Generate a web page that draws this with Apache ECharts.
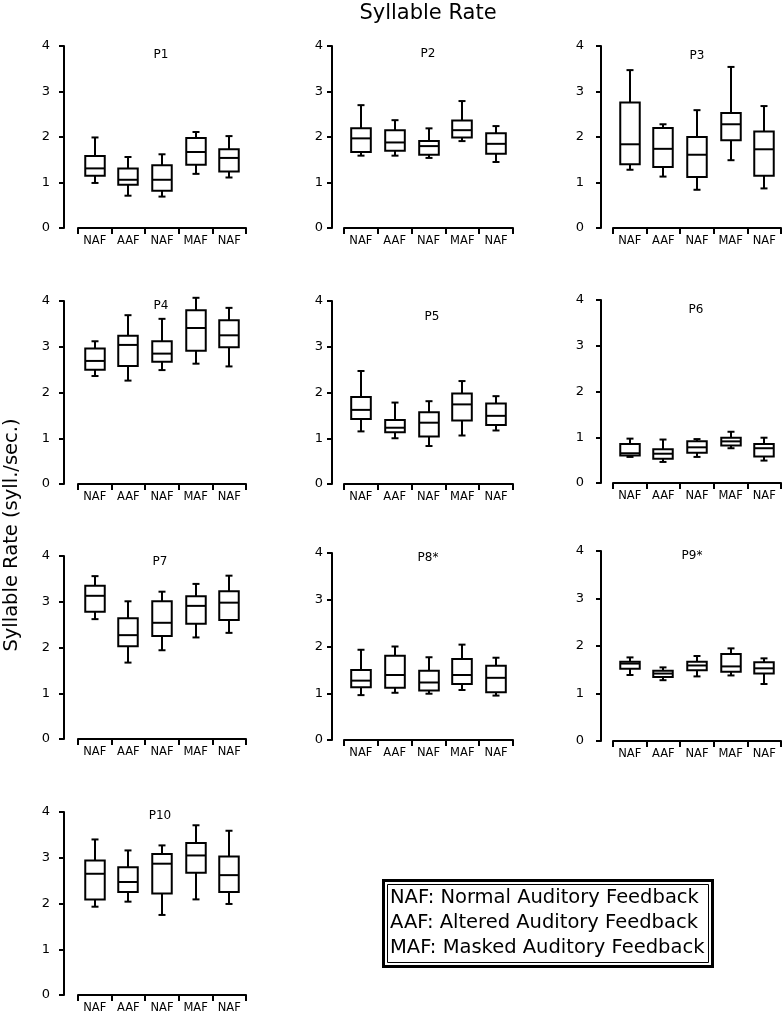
<!DOCTYPE html>
<html><head><meta charset="utf-8">
<script src="https://cdn.jsdelivr.net/npm/echarts@6/dist/echarts.min.js"></script>
<style>html,body{margin:0;padding:0;background:#fff}#c{width:784px;height:1017px}</style>
</head><body><div id="c"></div>
<script>
const categories = ['NAF', 'AAF', 'NAF', 'MAF', 'NAF'];
const yTickMin = 0, yTickMax = 4, yTickStep = 1;
const panelNames = ['P1', 'P2', 'P3', 'P4', 'P5', 'P6', 'P7', 'P8*', 'P9*', 'P10'];
const mainTitle = 'Syllable Rate';
const yAxisTitle = 'Syllable Rate (syll./sec.)';
const legendLines = ['NAF: Normal Auditory Feedback', 'AAF: Altered Auditory Feedback', 'MAF: Masked Auditory Feedback'];

// each entry: [low whisker, Q1, median, Q3, high whisker]
const p1 = [[0.99, 1.15, 1.31, 1.58, 1.99], [0.71, 0.95, 1.06, 1.31, 1.56], [0.69, 0.82, 1.06, 1.38, 1.62], [1.19, 1.39, 1.67, 1.98, 2.11], [1.11, 1.24, 1.54, 1.73, 2.02]];
const p2 = [[1.59, 1.67, 1.97, 2.19, 2.70], [1.59, 1.70, 1.88, 2.15, 2.37], [1.54, 1.61, 1.80, 1.91, 2.19], [1.91, 1.99, 2.15, 2.36, 2.79], [1.45, 1.63, 1.85, 2.08, 2.24]];
const p3 = [[1.28, 1.40, 1.84, 2.76, 3.47], [1.13, 1.34, 1.74, 2.20, 2.28], [0.84, 1.12, 1.61, 2.00, 2.59], [1.49, 1.93, 2.28, 2.53, 3.54], [0.87, 1.15, 1.73, 2.12, 2.68]];
const p4 = [[2.36, 2.50, 2.69, 2.96, 3.12], [2.26, 2.58, 3.04, 3.24, 3.69], [2.49, 2.67, 2.85, 3.12, 3.61], [2.63, 2.91, 3.41, 3.80, 4.07], [2.57, 2.99, 3.25, 3.58, 3.85]];
const p5 = [[1.15, 1.42, 1.62, 1.90, 2.47], [1.00, 1.13, 1.23, 1.40, 1.78], [0.83, 1.04, 1.34, 1.57, 1.81], [1.06, 1.39, 1.74, 1.98, 2.25], [1.17, 1.29, 1.49, 1.76, 1.92]];
const p6 = [[0.57, 0.60, 0.65, 0.85, 0.97], [0.46, 0.53, 0.64, 0.74, 0.95], [0.57, 0.66, 0.78, 0.91, 0.96], [0.76, 0.82, 0.91, 0.99, 1.12], [0.49, 0.58, 0.76, 0.85, 0.99]];
const p7 = [[2.62, 2.78, 3.13, 3.35, 3.56], [1.67, 2.03, 2.27, 2.64, 3.01], [1.94, 2.25, 2.54, 3.01, 3.22], [2.22, 2.52, 2.91, 3.12, 3.39], [2.32, 2.60, 2.98, 3.23, 3.57]];
const p8 = [[0.96, 1.13, 1.27, 1.50, 1.93], [1.01, 1.12, 1.39, 1.80, 2.00], [0.99, 1.06, 1.23, 1.48, 1.77], [1.07, 1.20, 1.39, 1.73, 2.04], [0.95, 1.02, 1.33, 1.59, 1.76]];
const p9 = [[1.39, 1.52, 1.63, 1.67, 1.76], [1.28, 1.35, 1.42, 1.48, 1.55], [1.36, 1.49, 1.59, 1.67, 1.79], [1.38, 1.46, 1.57, 1.83, 1.95], [1.20, 1.42, 1.53, 1.66, 1.74]];
const p10 = [[1.93, 2.09, 2.65, 2.94, 3.40], [2.04, 2.25, 2.47, 2.79, 3.16], [1.75, 2.22, 2.87, 3.08, 3.27], [2.09, 2.67, 3.05, 3.32, 3.71], [1.99, 2.25, 2.62, 3.03, 3.59]];
const panels = [p1, p2, p3, p4, p5, p6, p7, p8, p9, p10];

// layout (pixels): grid left/width, value-4 top and value-0 bottom, y-axis offset, title position
const colX = [{left: 78, width: 168, off: 14, lm: 14}, {left: 344, width: 169, off: 12, lm: 9}, {left: 613, width: 168, off: 12, lm: 17}];
const panelBox = [
  {col: 0, top: 46, bot: 228, tx: 161, ty: 55},
  {col: 1, top: 46, bot: 228, tx: 428, ty: 54},
  {col: 2, top: 46, bot: 228, tx: 697, ty: 56},
  {col: 0, top: 301, bot: 484, tx: 161, ty: 306},
  {col: 1, top: 301, bot: 484, tx: 432, ty: 317},
  {col: 2, top: 300, bot: 483, tx: 696, ty: 310},
  {col: 0, top: 556, bot: 739, tx: 160, ty: 562},
  {col: 1, top: 553, bot: 740, tx: 428, ty: 558},
  {col: 2, top: 551, bot: 741, tx: 692, ty: 556},
  {col: 0, top: 812, bot: 995, tx: 160, ty: 816}
];

const FONT = '"DejaVu Sans", "Liberation Sans", sans-serif';
const LW = 2;
const grids = [], xAxes = [], yAxes = [], series = [], graphics = [];

function renderBox(params, api) {
  const i = api.value(0);
  const lo = api.coord([i, api.value(1)]);
  const q1 = api.coord([i, api.value(2)]);
  const md = api.coord([i, api.value(3)]);
  const q3 = api.coord([i, api.value(4)]);
  const hi = api.coord([i, api.value(5)]);
  const band = api.size([1, 0])[0];
  const bw = band * 0.58, cw = 7;
  const x = Math.round(lo[0]);
  const st = {stroke: '#000', lineWidth: LW};
  return {type: 'group', children: [
    {type: 'line', shape: {x1: x, y1: hi[1], x2: x, y2: q3[1]}, style: st},
    {type: 'line', shape: {x1: x, y1: q1[1], x2: x, y2: lo[1]}, style: st},
    {type: 'line', shape: {x1: x - cw / 2, y1: hi[1], x2: x + cw / 2, y2: hi[1]}, style: st},
    {type: 'line', shape: {x1: x - cw / 2, y1: lo[1], x2: x + cw / 2, y2: lo[1]}, style: st},
    {type: 'rect', shape: {x: x - bw / 2, y: q3[1], width: bw, height: q1[1] - q3[1]}, style: {stroke: '#000', lineWidth: LW, fill: '#fff'}},
    {type: 'line', shape: {x1: x - bw / 2, y1: md[1], x2: x + bw / 2, y2: md[1]}, style: st}
  ]};
}

panels.forEach((d, k) => {
  const b = panelBox[k], c = colX[b.col];
  grids.push({left: c.left, width: c.width, top: b.top, height: b.bot - b.top, outerBoundsMode: 'none', containLabel: false});
  xAxes.push({
    type: 'category', gridIndex: k, data: categories, boundaryGap: true, offset: 2,
    axisLine: {show: true, lineStyle: {color: '#000', width: LW}},
    axisTick: {show: true, length: 6, lineStyle: {color: '#000', width: LW}},
    axisLabel: {color: '#000', fontFamily: FONT, fontSize: 11.5, margin: 5, interval: 0},
    splitLine: {show: false}
  });
  yAxes.push({
    type: 'value', gridIndex: k, min: yTickMin, max: yTickMax, interval: yTickStep, offset: c.off,
    axisLine: {show: true, lineStyle: {color: '#000', width: LW}},
    axisTick: {show: true, length: 5, lineStyle: {color: '#000', width: LW}},
    axisLabel: {color: '#000', fontFamily: FONT, fontSize: 13, margin: c.lm},
    splitLine: {show: false}
  });
  series.push({
    type: 'custom', xAxisIndex: k, yAxisIndex: k, renderItem: renderBox,
    encode: {x: 0, y: [1, 2, 3, 4, 5]},
    data: d.map((v, i) => [i].concat(v)), silent: true, clip: false
  });
  graphics.push({type: 'text', x: b.tx, y: b.ty, style: {text: panelNames[k], fill: '#000', font: '12px ' + FONT, textAlign: 'center', textVerticalAlign: 'middle'}});
});

graphics.push({type: 'text', x: 428, y: 14, style: {text: mainTitle, fill: '#000', font: '21px ' + FONT, textAlign: 'center', textVerticalAlign: 'middle'}});
graphics.push({type: 'text', x: 12, y: 535, rotation: Math.PI / 2, style: {text: yAxisTitle, fill: '#000', font: '19.5px ' + FONT, textAlign: 'center', textVerticalAlign: 'middle'}});
graphics.push({type: 'rect', shape: {x: 383.5, y: 880.5, width: 329, height: 86}, style: {stroke: '#000', lineWidth: 3, fill: '#fff'}});
graphics.push({type: 'rect', shape: {x: 387.5, y: 884.5, width: 321, height: 78}, style: {stroke: '#000', lineWidth: 1, fill: null}});
legendLines.forEach((t, i) => {
  graphics.push({type: 'text', x: 390, y: 898 + i * 25, style: {text: t, fill: '#000', font: '19.5px ' + FONT, textAlign: 'left', textVerticalAlign: 'middle'}});
});

const chart = echarts.init(document.getElementById('c'), null, {renderer: 'canvas'});
chart.setOption({
  animation: false,
  backgroundColor: '#fff',
  grid: grids, xAxis: xAxes, yAxis: yAxes, series: series, graphic: graphics
});
</script></body></html>
